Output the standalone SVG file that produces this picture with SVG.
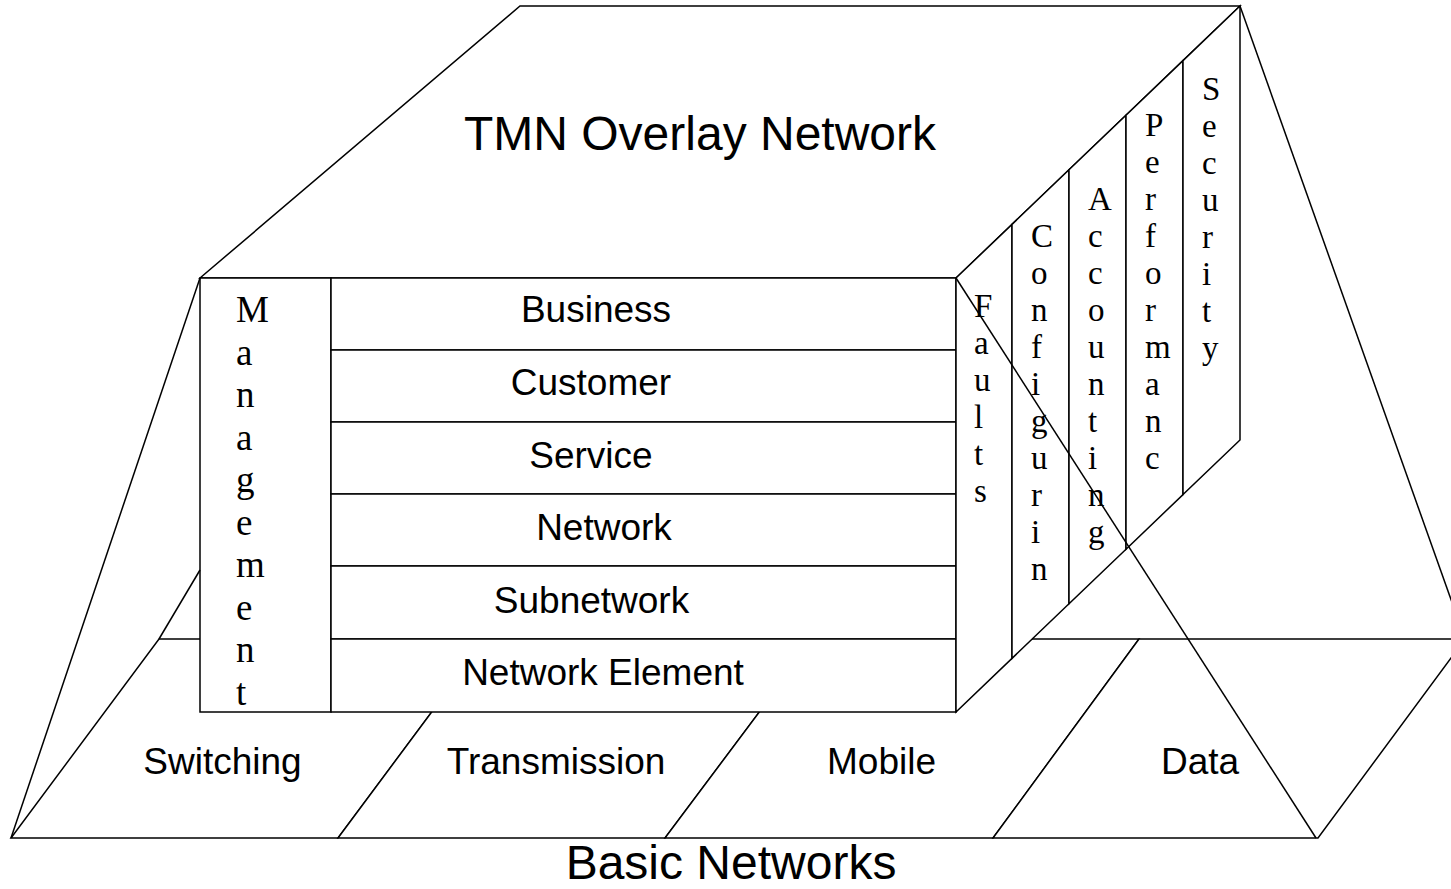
<svg xmlns="http://www.w3.org/2000/svg" width="1451" height="889" viewBox="0 0 1451 889">
<style>
  .shape { fill: #ffffff; stroke: #000000; stroke-width: 1.5; stroke-linejoin: miter; }
  .line { fill: none; stroke: #000000; stroke-width: 1.5; }
  .sans { font-family: "Liberation Sans", Arial, sans-serif; font-size: 37px; fill: #000000; text-anchor: middle; }
  .big { font-family: "Liberation Sans", Arial, sans-serif; font-size: 48px; fill: #000000; text-anchor: middle; }
  .vert { font-family: "Liberation Serif", "Times New Roman", serif; font-size: 33px; fill: #000000; }
  .vertbig { font-family: "Liberation Serif", "Times New Roman", serif; font-size: 37px; fill: #000000; }
</style>
<rect x="0" y="0" width="1451" height="889" fill="#ffffff"/>

<!-- Basic networks strip -->
<g id="switching">
  <polygon class="shape" points="159,639 486,639 338,838 11,838"/>
  <text class="sans" x="222.5" y="774">Switching</text>
</g>
<g id="transmission">
  <polygon class="shape" points="486,639 814,639 665,838 338,838"/>
  <text class="sans" x="556" y="774">Transmission</text>
</g>
<g id="mobile">
  <polygon class="shape" points="814,639 1139,639 993,838 665,838"/>
  <text class="sans" x="881.5" y="774">Mobile</text>
</g>
<g id="data">
  <polygon class="shape" points="1139,639 1465,639 1318,838 993,838"/>
  <text class="sans" x="1200" y="774">Data</text>
</g>
<g id="basic-networks">
  <text class="big" x="731" y="879">Basic Networks</text>
</g>

<!-- TMN overlay top face -->
<g id="tmn-overlay">
  <polygon class="shape" points="200,278 520,6 1240,6 956,278"/>
  <text class="big" x="700" y="150">TMN Overlay Network</text>
</g>

<!-- Front face: management column -->
<g id="management">
  <rect class="shape" x="200" y="278" width="131" height="434"/>
  <text class="vertbig" x="236" y="322"><tspan x="236">M</tspan><tspan x="236" dy="42.5">a</tspan><tspan x="236" dy="42.5">n</tspan><tspan x="236" dy="42.5">a</tspan><tspan x="236" dy="42.5">g</tspan><tspan x="236" dy="42.5">e</tspan><tspan x="236" dy="42.5">m</tspan><tspan x="236" dy="42.5">e</tspan><tspan x="236" dy="42.5">n</tspan><tspan x="236" dy="42.5">t</tspan></text>
</g>

<!-- Front face: layers -->
<g id="business">
  <rect class="shape" x="331" y="278" width="625" height="72"/>
  <text class="sans" x="596" y="322">Business</text>
</g>
<g id="customer">
  <rect class="shape" x="331" y="350" width="625" height="72"/>
  <text class="sans" x="591" y="395">Customer</text>
</g>
<g id="service">
  <rect class="shape" x="331" y="422" width="625" height="72"/>
  <text class="sans" x="591" y="468">Service</text>
</g>
<g id="network">
  <rect class="shape" x="331" y="494" width="625" height="72"/>
  <text class="sans" x="604" y="540">Network</text>
</g>
<g id="subnetwork">
  <rect class="shape" x="331" y="566" width="625" height="73"/>
  <text class="sans" x="591.5" y="613">Subnetwork</text>
</g>
<g id="network-element">
  <rect class="shape" x="331" y="639" width="625" height="73"/>
  <text class="sans" x="603" y="685">Network Element</text>
</g>

<!-- Right face: functional areas -->
<g id="faults">
  <polygon class="shape" points="956,278 1012,224.4 1012,658.4 956,712"/>
  <text class="vert" x="974" y="317"><tspan x="974">F</tspan><tspan x="974" dy="37">a</tspan><tspan x="974" dy="37">u</tspan><tspan x="974" dy="37">l</tspan><tspan x="974" dy="37">t</tspan><tspan x="974" dy="37">s</tspan></text>
</g>
<g id="configuring">
  <polygon class="shape" points="1012,224.4 1069,169.8 1069,603.8 1012,658.4"/>
  <text class="vert" x="1031" y="247"><tspan x="1031">C</tspan><tspan x="1031" dy="37">o</tspan><tspan x="1031" dy="37">n</tspan><tspan x="1031" dy="37">f</tspan><tspan x="1031" dy="37">i</tspan><tspan x="1031" dy="37">g</tspan><tspan x="1031" dy="37">u</tspan><tspan x="1031" dy="37">r</tspan><tspan x="1031" dy="37">i</tspan><tspan x="1031" dy="37">n</tspan></text>
</g>
<g id="accounting">
  <polygon class="shape" points="1069,169.8 1126,115.2 1126,549.2 1069,603.8"/>
  <text class="vert" x="1088" y="210"><tspan x="1088">A</tspan><tspan x="1088" dy="37">c</tspan><tspan x="1088" dy="37">c</tspan><tspan x="1088" dy="37">o</tspan><tspan x="1088" dy="37">u</tspan><tspan x="1088" dy="37">n</tspan><tspan x="1088" dy="37">t</tspan><tspan x="1088" dy="37">i</tspan><tspan x="1088" dy="37">n</tspan><tspan x="1088" dy="37">g</tspan></text>
</g>
<g id="performance">
  <polygon class="shape" points="1126,115.2 1183,60.6 1183,494.6 1126,549.2"/>
  <text class="vert" x="1145" y="136"><tspan x="1145">P</tspan><tspan x="1145" dy="37">e</tspan><tspan x="1145" dy="37">r</tspan><tspan x="1145" dy="37">f</tspan><tspan x="1145" dy="37">o</tspan><tspan x="1145" dy="37">r</tspan><tspan x="1145" dy="37">m</tspan><tspan x="1145" dy="37">a</tspan><tspan x="1145" dy="37">n</tspan><tspan x="1145" dy="37">c</tspan></text>
</g>
<g id="security">
  <polygon class="shape" points="1183,60.6 1240,6 1240,440 1183,494.6"/>
  <text class="vert" x="1202" y="100"><tspan x="1202">S</tspan><tspan x="1202" dy="37">e</tspan><tspan x="1202" dy="37">c</tspan><tspan x="1202" dy="37">u</tspan><tspan x="1202" dy="37">r</tspan><tspan x="1202" dy="37">i</tspan><tspan x="1202" dy="37">t</tspan><tspan x="1202" dy="37">y</tspan></text>
</g>

<!-- Connectors: legs from the overlay to the basic networks -->
<g id="connectors">
  <line class="line" x1="200" y1="278" x2="11" y2="838"/>
  <line class="line" x1="200" y1="570" x2="159" y2="639"/>
  <line class="line" x1="956" y1="278" x2="1316" y2="838"/>
  <line class="line" x1="1240" y1="6" x2="1465" y2="639"/>
</g>
</svg>
